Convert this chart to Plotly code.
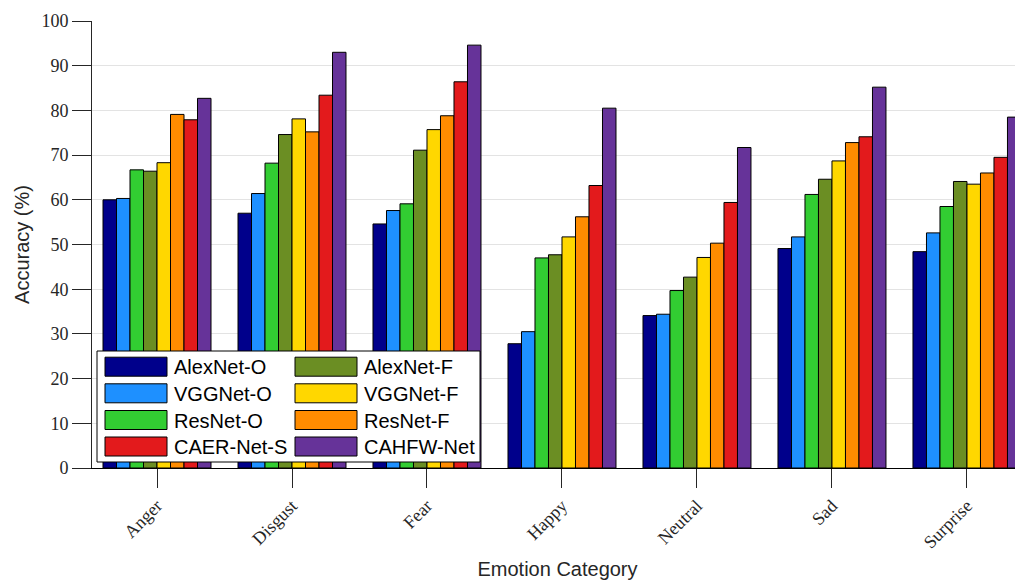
import plotly.graph_objects as go

categories = ["Anger", "Disgust", "Fear", "Happy", "Neutral", "Sad", "Surprise"]
series_names = ["AlexNet-O", "VGGNet-O", "ResNet-O", "AlexNet-F",
                "VGGNet-F", "ResNet-F", "CAER-Net-S", "CAHFW-Net"]
colors = ["#00008B", "#1E90FF", "#32CD32", "#6B8E23",
          "#FFD700", "#FF8C00", "#E31A1C", "#663399"]

alexnet_o = [60.0, 57.0, 54.6, 27.8, 34.1, 49.1, 48.4]
vggnet_o = [60.3, 61.4, 57.6, 30.5, 34.4, 51.7, 52.6]
resnet_o = [66.7, 68.2, 59.1, 47.0, 39.7, 61.2, 58.5]
alexnet_f = [66.4, 74.6, 71.1, 47.7, 42.7, 64.6, 64.1]
vggnet_f = [68.3, 78.1, 75.7, 51.7, 47.1, 68.7, 63.5]
resnet_f = [79.1, 75.2, 78.8, 56.2, 50.3, 72.8, 66.0]
caer_net_s = [77.9, 83.4, 86.4, 63.2, 59.4, 74.1, 69.5]
cahfw_net = [82.7, 93.0, 94.6, 80.5, 71.7, 85.2, 78.5]

y_ticks = [0, 10, 20, 30, 40, 50, 60, 70, 80, 90, 100]

series_values = [alexnet_o, vggnet_o, resnet_o, alexnet_f,
                 vggnet_f, resnet_f, caer_net_s, cahfw_net]

fig = go.Figure()
for name, vals, col in zip(series_names, series_values, colors):
    fig.add_trace(go.Bar(
        x=list(range(len(categories))), y=vals, name=name,
        marker=dict(color=col, line=dict(color="black", width=1)),
        showlegend=False,
    ))

# page body margin offset (8px) compensation
OFF = 8
W, H = 1023 - OFF, 580 - OFF
ML, MR, MT, MB = 92 - OFF, 0, 21 - OFF, 112
PW, PH = W - ML - MR, H - MT - MB

def px(x):
    return (x - OFF - ML) / PW

def py(y):
    return (H - MB - (y - OFF)) / PH

shapes = []
annotations = []
# manual legend box
shapes.append(dict(type="rect", xref="paper", yref="paper",
                   x0=px(97), x1=px(480), y0=py(462), y1=py(351),
                   fillcolor="white", line=dict(color="black", width=1),
                   layer="above"))
legend_cols = [[0, 1, 2, 6], [3, 4, 5, 7]]
sw_x = [(105, 167), (295, 357)]
txt_x = [172, 362]
row_c = [366.7, 393.3, 420.0, 446.5]
for ci, col in enumerate(legend_cols):
    for ri, si in enumerate(col):
        yc = row_c[ri]
        shapes.append(dict(type="rect", xref="paper", yref="paper",
                           x0=px(sw_x[ci][0]), x1=px(sw_x[ci][1]),
                           y0=py(yc + 9.5), y1=py(yc - 9.5),
                           fillcolor=colors[si],
                           line=dict(color="black", width=1), layer="above"))
        annotations.append(dict(xref="paper", yref="paper",
                                x=px(txt_x[ci]), y=py(yc + 0.5),
                                text=series_names[si], showarrow=False,
                                xanchor="left", yanchor="middle",
                                font=dict(family="Liberation Sans", size=20,
                                          color="black")))

fig.update_layout(
    width=W, height=H,
    margin=dict(l=ML, r=MR, t=MT, b=MB, autoexpand=False),
    paper_bgcolor="white", plot_bgcolor="white",
    barmode="group", bargap=0.2, bargroupgap=0,
    shapes=shapes, annotations=annotations,
    xaxis=dict(
        range=[-0.4815, 6.415], tickmode="array",
        tickvals=list(range(len(categories))), ticktext=categories,
        tickangle=-45, ticks="outside", ticklen=19, tickwidth=1,
        tickcolor="#262626", showline=True, linecolor="black", linewidth=1.3,
        showgrid=False, zeroline=False,
        tickfont=dict(family="Liberation Serif", size=18, color="#262626"),
        title=dict(text="Emotion Category", standoff=10,
                   font=dict(family="Liberation Sans", size=20, color="#262626")),
        automargin=False,
    ),
    yaxis=dict(
        range=[0, 100], tickmode="array", tickvals=y_ticks,
        ticks="outside", ticklen=19, tickwidth=1, tickcolor="#262626",
        showline=True, linecolor="#262626", linewidth=1,
        showgrid=True, gridcolor="#e3e3e3", gridwidth=1.3, zeroline=False,
        tickfont=dict(family="Liberation Serif", size=18, color="#262626"),
        title=dict(text="Accuracy (%)", standoff=6,
                   font=dict(family="Liberation Sans", size=20, color="#262626")),
        automargin=False,
    ),
)

fig.write_html("out.html")
